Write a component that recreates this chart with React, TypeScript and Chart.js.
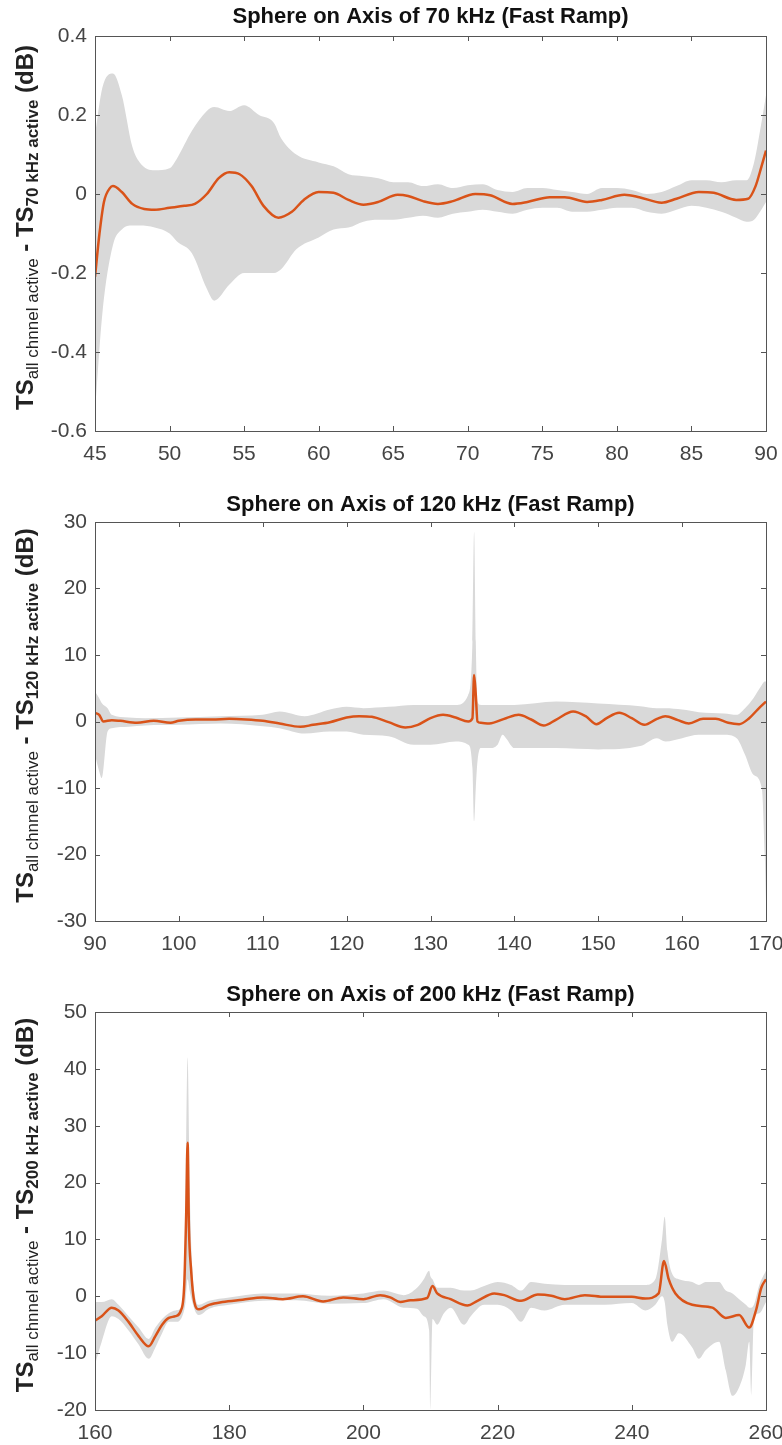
import React, { useEffect, useRef } from 'react';
import { Chart, registerables } from 'chart.js';
Chart.register(...registerables);

// ---------- Chart 1: 70 kHz ----------
const c1Title = 'Sphere on Axis of 70 kHz (Fast Ramp)';
const c1Sub2 = '70 kHz active';
const c1MeanX = [45, 45.3, 45.6, 46.0, 46.2, 46.8, 47.5, 48.3, 49, 50, 51, 51.7, 52.5, 53.3, 54, 54.7, 55.5, 56.3, 57.3, 58.2, 59, 60, 61, 62, 63, 64, 65.3, 66, 67, 68, 69, 70.5, 71.5, 73, 74, 75.5, 76.5, 78, 79, 80.5, 81.5, 83, 84, 85.5, 86.5, 88, 88.8, 89.3, 89.7, 90];
const c1MeanY = [-0.21, -0.1, -0.02, 0.015, 0.02, 0.005, -0.025, -0.038, -0.04, -0.035, -0.03, -0.025, 0.0, 0.04, 0.055, 0.05, 0.02, -0.03, -0.06, -0.045, -0.015, 0.005, 0.003, -0.015, -0.027, -0.02, -0.002, -0.005, -0.018, -0.025, -0.018, 0.0, -0.003, -0.025, -0.02, -0.008, -0.008, -0.02, -0.015, -0.002, -0.008, -0.022, -0.012, 0.005, 0.003, -0.015, -0.012, 0.02, 0.07, 0.11];
const c1BandX = [45, 45.5, 46.2, 46.8, 47.5, 48, 49, 50, 50.5, 51.5, 52.5, 53, 54, 55, 56, 57, 57.5, 58.5, 60, 61, 62, 63, 64, 65, 66, 67, 68, 69, 70, 71, 72, 73, 74, 75, 76, 77, 78, 79, 80, 81, 82, 83, 84, 85, 86, 87, 88, 88.7, 89.2, 89.6, 90];
const c1BandHi = [0.15, 0.27, 0.305, 0.25, 0.12, 0.08, 0.06, 0.065, 0.09, 0.16, 0.21, 0.22, 0.21, 0.225, 0.2, 0.18, 0.14, 0.1, 0.08, 0.07, 0.05, 0.045, 0.04, 0.03, 0.03, 0.02, 0.025, 0.015, 0.022, 0.025, 0.01, 0.005, 0.015, 0.015, 0.01, 0.005, 0.0, 0.015, 0.015, 0.01, 0.0, 0.005, 0.02, 0.035, 0.035, 0.03, 0.035, 0.035, 0.08, 0.16, 0.25];
const c1BandLo = [-0.55, -0.3, -0.13, -0.09, -0.08, -0.08, -0.085, -0.1, -0.12, -0.15, -0.24, -0.27, -0.23, -0.2, -0.2, -0.2, -0.19, -0.14, -0.11, -0.09, -0.085, -0.07, -0.065, -0.065, -0.06, -0.055, -0.06, -0.05, -0.045, -0.04, -0.045, -0.05, -0.04, -0.035, -0.035, -0.045, -0.045, -0.04, -0.035, -0.035, -0.045, -0.05, -0.04, -0.03, -0.035, -0.045, -0.06, -0.07, -0.065, -0.045, -0.02];

// ---------- Chart 2: 120 kHz ----------
const c2Title = 'Sphere on Axis of 120 kHz (Fast Ramp)';
const c2Sub2 = '120 kHz active';
const c2MeanX = [90, 90.5, 91, 92, 93, 95, 97, 99, 100, 102, 104, 106, 108, 110, 112, 114.5, 116, 118, 120, 121.5, 123, 125, 127, 128.5, 130, 131.5, 133, 134.5, 135, 135.2, 135.4, 135.6, 136, 137, 139, 140.5, 142, 143.5, 145, 147, 148.5, 149.8, 151, 152.5, 154, 155.5, 157, 158, 159.5, 160.8, 162.5, 164, 165.5, 166.8, 168, 169, 170];
const c2MeanY = [1.3, 1.0, 0.0, 0.2, 0.1, -0.2, 0.1, -0.2, 0.1, 0.3, 0.3, 0.4, 0.3, 0.1, -0.3, -0.8, -0.5, -0.1, 0.6, 0.8, 0.7, -0.1, -0.9, -0.5, 0.5, 1.0, 0.6, 0.0, 0.5, 7.0, 4.0, 0.0, -0.2, -0.3, 0.5, 1.0, 0.3, -0.6, 0.3, 1.5, 0.8, -0.4, 0.5, 1.3, 0.5, -0.5, 0.4, 0.8, 0.2, -0.3, 0.4, 0.4, -0.2, -0.4, 0.5, 1.8, 3.0];
const c2BandX = [90, 90.5, 90.8, 91.5, 92, 94, 96, 100, 105, 110, 112, 115, 118, 120, 122, 125, 128, 130, 133, 134.5, 135, 135.2, 135.4, 135.6, 136, 137, 138, 138.6, 139, 140, 145, 150, 155, 157, 158, 160, 162, 165, 166.5, 167.5, 168.5, 169.5, 169.85, 170];
const c2BandHi = [4.5, 3.5, 2.8, 2.0, 1.0, 0.6, 0.5, 0.6, 0.8, 1.0, 1.5, 0.8, 1.8, 2.2, 2.0, 2.2, 2.5, 2.5, 2.5, 4.0, 12, 28.5, 12, 3.0, 2.5, 2.5, 2.5, 2.5, 2.5, 2.5, 3.0, 2.7, 2.3, 2.0, 2.0, 1.8, 1.4, 1.2, 1.0, 2.0, 3.5, 5.5, 6.0, 6.0];
const c2BandLo = [-5, -7.5, -8.5, -1.5, -1.0, -0.8, -0.6, -0.5, -0.3, -0.7, -1.0, -1.8, -1.5, -1.5, -2.0, -2.2, -3.5, -3.5, -3.0, -3.5, -7, -15, -10, -6, -4, -4, -3.5, -2.0, -2.5, -4, -4, -4.2, -3.7, -2.5, -3.0, -2.5, -2.0, -2.0, -2.5, -5, -8, -10, -20, -27];

// ---------- Chart 3: 200 kHz ----------
const c3Title = 'Sphere on Axis of 200 kHz (Fast Ramp)';
const c3Sub2 = '200 kHz active';
const c3MeanX = [160, 161, 162.5, 163.5, 165, 166.5, 168, 169, 170, 171, 172, 172.8, 173.3, 173.6, 173.8, 174.0, 174.3, 174.8, 175.5, 177, 179, 182, 185, 188, 191, 194, 197, 200, 202.5, 204, 205.5, 207, 209.5, 210.3, 211, 213, 215.5, 217, 219.5, 221, 223.5, 226, 228, 230, 233, 236, 240, 242, 244, 244.8, 245.5, 246.5, 249, 252, 254, 256, 257.5, 258.5, 259.3, 260];
const c3MeanY = [-4.3, -3.5, -2.0, -2.5, -4.5, -7.0, -8.8, -7, -5, -3.8, -3.5, -2.5, 2, 15, 27, 12, 5, -1, -2.3, -1.5, -1.0, -0.6, -0.2, -0.5, 0.0, -0.9, -0.2, -0.5, 0.2, -0.2, -1.0, -0.7, -0.3, 1.8, 0.5, -0.5, -1.6, -0.8, 0.5, 0.2, -0.8, 0.3, 0.1, -0.5, 0.2, -0.1, -0.1, -0.4, 0.5, 6.2, 3, 0.5, -1.5, -2.0, -3.8, -3.3, -5.5, -2.5, 1.5, 3.0];
const c3BandX = [160, 161, 162.5, 163.5, 165, 166.5, 168, 169, 170, 171, 172, 173, 173.5, 173.8, 174.1, 174.5, 175, 175.5, 177, 180, 185, 190, 195, 200, 203, 206, 208, 209, 209.8, 210, 210.3, 211, 212, 213, 215, 216, 218, 220, 222, 223.5, 225, 227, 230, 233, 236, 240, 242, 243.5, 244.5, 244.9, 245.3, 246, 247, 249, 250, 251, 253, 254, 255, 256, 257, 257.5, 257.8, 258.2, 259, 260];
const c3BandHi = [-1, -1, -0.5, -1.5, -3.5, -5.5, -7.5, -5.5, -4, -3, -2.5, -1.5, 15, 42, 20, 5, -0.5, -1.5, -0.8, -0.2, 0.5, 0.5, 0.1, 0.5, 1.0, 0.2, 1.5, 3, 4.5, 3.5, 3, 1.5, 1.5, 1.5, 1.0, 1.0, 1.8, 2.5, 2.0, 1.0, 2.5, 2.2, 2.0, 2.0, 2.0, 2.0, 2.0, 3, 10, 14, 8, 4, 3, 2.5, 2, 2.5, 2.5, 1.0, 0.5, -0.5, -1.5, -2, -2, -1.5, 2, 4.5];
const c3BandLo = [-12, -8, -3.5, -4, -6, -8.5, -11, -9, -6.5, -4.5, -4.5, -3.5, -1, 3, 1, -1, -2.8, -3.3, -2.2, -1.5, -0.8, -0.7, -1.3, -1.2, -0.5, -2, -2.2, -3.5, -6, -20, -4, -5, -3, -2.0, -5, -3.5, -1.5, -1.5, -2.5, -4.5, -2, -2.5, -1.5, -1.5, -1.5, -1.2, -2.5, -1.5, 0, -1, -5, -8, -6.5, -9, -11, -9.5, -8, -13, -17.5, -16, -12, -8, -17.5, -4, -3, -1];

const FONT = '"Liberation Sans", Arial, Helvetica, sans-serif';
const ORANGE = '#D95319';
const BAND = '#d9d9d9';
const AXIS = '#555555';

const framePlugin = {
  id: 'frame',
  afterDraw(chart: any, _args: any, opts: any) {
    const ctx = chart.ctx;
    const a = chart.chartArea;
    const xs = chart.scales.x;
    const ys = chart.scales.y;
    ctx.save();
    ctx.strokeStyle = AXIS;
    ctx.lineWidth = 1;
    ctx.strokeRect(Math.round(a.left) + 0.5, Math.round(a.top) + 0.5, Math.round(a.right - a.left), Math.round(a.bottom - a.top));
    const tl = 5;
    ctx.beginPath();
    xs.ticks.forEach((t: any) => {
      const px = Math.round(xs.getPixelForValue(t.value)) + 0.5;
      ctx.moveTo(px, a.bottom); ctx.lineTo(px, a.bottom - tl);
      ctx.moveTo(px, a.top); ctx.lineTo(px, a.top + tl);
    });
    ys.ticks.forEach((t: any) => {
      const py = Math.round(ys.getPixelForValue(t.value)) + 0.5;
      ctx.moveTo(a.left, py); ctx.lineTo(a.left + tl, py);
      ctx.moveTo(a.right, py); ctx.lineTo(a.right - tl, py);
    });
    ctx.stroke();

    // title
    ctx.fillStyle = '#111111';
    ctx.font = `bold 22px ${FONT}`;
    ctx.textAlign = 'center';
    ctx.textBaseline = 'middle';
    ctx.fillText(opts.title, (a.left + a.right) / 2, opts.titleY);

    // y label with subscripts, rotated
    const parts = [
      { t: 'TS', f: `bold 24px ${FONT}`, dy: 0 },
      { t: 'all chnnel active', f: `17px ${FONT}`, dy: 5 },
      { t: ' - TS', f: `bold 24px ${FONT}`, dy: 0 },
      { t: opts.sub2, f: `bold 17px ${FONT}`, dy: 5 },
      { t: ' (dB)', f: `bold 24px ${FONT}`, dy: 0 },
    ];
    let total = 0;
    const widths = parts.map((p) => { ctx.font = p.f; const w = ctx.measureText(p.t).width; total += w; return w; });
    ctx.translate(opts.labelX, (a.top + a.bottom) / 2 + opts.labelShift);
    ctx.rotate(-Math.PI / 2);
    ctx.textAlign = 'left';
    ctx.textBaseline = 'alphabetic';
    ctx.fillStyle = '#222222';
    let x = -total / 2;
    parts.forEach((p, i) => {
      ctx.font = p.f;
      ctx.fillText(p.t, x, p.dy);
      x += widths[i];
    });
    ctx.restore();
  },
};

function pts(xs: number[], ys: number[]) {
  return xs.map((x, i) => ({ x, y: ys[i] }));
}

type PanelProps = {
  top: number; height: number; padTop: number; plotH: number; titleY: number; title: string; sub2: string;
  meanX: number[]; meanY: number[]; bandX: number[]; bandHi: number[]; bandLo: number[];
  xMin: number; xMax: number; xStep: number; yMin: number; yMax: number; yStep: number; yDec: number;
};

function Panel(p: PanelProps) {
  const ref = useRef<HTMLCanvasElement | null>(null);
  useEffect(() => {
    if (!ref.current) return;
    const chart = new Chart(ref.current, {
      type: 'line',
      data: {
        datasets: [
          { data: pts(p.meanX, p.meanY), order: 0, borderWidth: 2.5, pointRadius: 0, fill: false, borderColor: ORANGE, cubicInterpolationMode: 'monotone' } as any,
          { data: pts(p.bandX, p.bandLo), order: 1, borderWidth: 0, pointRadius: 0, fill: false, backgroundColor: BAND, borderColor: BAND, cubicInterpolationMode: 'monotone' } as any,
          { data: pts(p.bandX, p.bandHi), order: 2, borderWidth: 0, pointRadius: 0, fill: 1, backgroundColor: BAND, borderColor: BAND, cubicInterpolationMode: 'monotone' } as any,
        ],
      },
      options: {
        responsive: false,
        animation: false,
        devicePixelRatio: 1,
        layout: { padding: { top: p.padTop, right: 16, left: 0, bottom: 0 } },
        plugins: {
          legend: { display: false },
          tooltip: { enabled: false },
          title: { display: false },
          filler: { drawTime: 'beforeDatasetsDraw' },
          frame: { title: p.title, titleY: p.titleY, sub2: p.sub2, labelX: 33, labelShift: -6 },
        } as any,
        scales: {
          x: {
            type: 'linear', min: p.xMin, max: p.xMax,
            grid: { display: false, drawTicks: false },
            border: { display: false },
            ticks: { stepSize: p.xStep, padding: 11, color: '#444444', font: { family: FONT, size: 21 }, maxRotation: 0, autoSkip: false },
            afterFit: (s: any) => { s.height = p.height - p.padTop - p.plotH; s.paddingLeft = 0; s.paddingRight = 0; },
          },
          y: {
            type: 'linear', min: p.yMin, max: p.yMax,
            grid: { display: false, drawTicks: false },
            border: { display: false },
            ticks: { stepSize: p.yStep, padding: 8, color: '#444444', font: { family: FONT, size: 21 },
              callback: (v: any) => String(Number(Number(v).toFixed(p.yDec))) },
            afterFit: (s: any) => { s.width = 95; s.paddingTop = 0; s.paddingBottom = 0; },
          },
        },
      } as any,
      plugins: [framePlugin as any],
    });
    return () => chart.destroy();
  }, []);
  return (
    <div style={{ position: 'absolute', left: 0, top: p.top, width: 782, height: p.height }}>
      <canvas ref={ref} width={782} height={p.height} style={{ width: 782, height: p.height, display: 'block' }} />
    </div>
  );
}

export default function App() {
  return (
    <div style={{ position: 'absolute', left: 0, top: 0, width: 782, height: 1445, background: '#ffffff' }}>
      <Panel top={0} height={470} padTop={36} plotH={395} titleY={17} title={c1Title} sub2={c1Sub2}
        meanX={c1MeanX} meanY={c1MeanY} bandX={c1BandX} bandHi={c1BandHi} bandLo={c1BandLo}
        xMin={45} xMax={90} xStep={5} yMin={-0.6} yMax={0.4} yStep={0.2} yDec={1} />
      <Panel top={480} height={480} padTop={42} plotH={399} titleY={25} title={c2Title} sub2={c2Sub2}
        meanX={c2MeanX} meanY={c2MeanY} bandX={c2BandX} bandHi={c2BandHi} bandLo={c2BandLo}
        xMin={90} xMax={170} xStep={10} yMin={-30} yMax={30} yStep={10} yDec={0} />
      <Panel top={960} height={485} padTop={52} plotH={398} titleY={35} title={c3Title} sub2={c3Sub2}
        meanX={c3MeanX} meanY={c3MeanY} bandX={c3BandX} bandHi={c3BandHi} bandLo={c3BandLo}
        xMin={160} xMax={260} xStep={20} yMin={-20} yMax={50} yStep={10} yDec={0} />
    </div>
  );
}
